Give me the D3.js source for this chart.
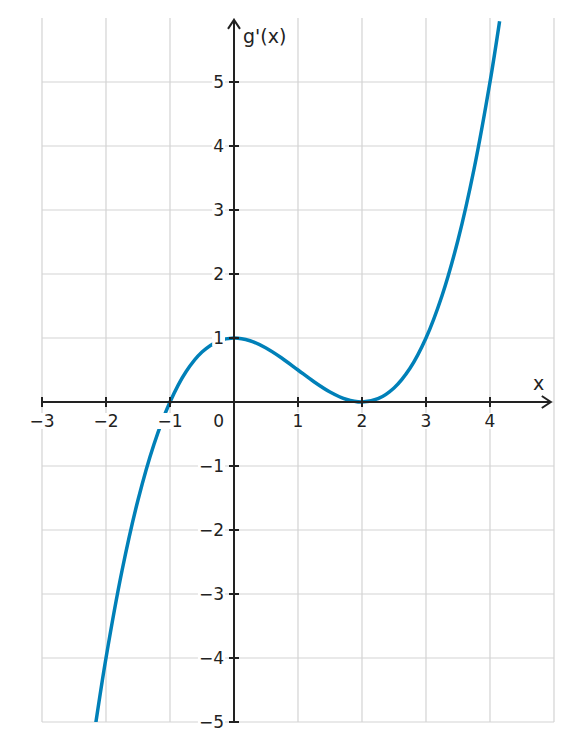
<!DOCTYPE html>
<html><head><meta charset="utf-8">
<script src="https://cdn.jsdelivr.net/npm/d3@7"></script>
<style>body{margin:0;background:#fff}text{font-family:"DejaVu Sans",sans-serif;fill:#222}</style>
</head><body><svg id="c" width="573" height="752"></svg>
<script>
const xTicks=[-3,-2,-1,1,2,3,4];
const yTicks=[-5,-4,-3,-2,-1,1,2,3,4,5];
const xs=[-2.17,-2,-1.75,-1.5,-1.25,-1,-0.75,-0.5,-0.25,0,0.25,0.5,0.75,1,1.25,1.5,1.75,2,2.25,2.5,2.75,3,3.25,3.5,3.75,4,4.15];
const ys=[-5.086,-4,-2.637,-1.531,-0.66,0,0.473,0.781,0.949,1,0.957,0.844,0.684,0.5,0.316,0.156,0.043,0,0.051,0.219,0.527,1,1.66,2.531,3.637,5,5.951];
const svg=d3.select("#c");
const x=d3.scaleLinear().domain([-3,5]).range([42,554]);
const y=d3.scaleLinear().domain([-5,6]).range([722,18]);
svg.append("defs").append("clipPath").attr("id","cp").append("rect").attr("x",0).attr("y",0).attr("width",573).attr("height",y(-5));
const g=svg.append("g");
[-3,-2,-1,0,1,2,3,4,5].forEach(v=>g.append("line").attr("x1",x(v)).attr("x2",x(v)).attr("y1",y(6)).attr("y2",y(-5)).attr("stroke","#d3d3d3").attr("stroke-width",1.2));
[-5,-4,-3,-2,-1,0,1,2,3,4,5].forEach(v=>g.append("line").attr("y1",y(v)).attr("y2",y(v)).attr("x1",x(-3)).attr("x2",x(5)).attr("stroke","#d3d3d3").attr("stroke-width",1.2));
const pts=xs.map((v,i)=>[v,ys[i]]);
svg.append("path").datum(pts).attr("clip-path","url(#cp)").attr("d",d3.line().x(d=>x(d[0])).y(d=>y(d[1])).curve(d3.curveCatmullRom)).attr("fill","none").attr("stroke","#0080b8").attr("stroke-width",3.5);
const ax="#222";
svg.append("line").attr("x1",x(-3)).attr("x2",x(4.95)).attr("y1",y(0)).attr("y2",y(0)).attr("stroke",ax).attr("stroke-width",2);
svg.append("path").attr("d",`M${x(4.95)-9},${y(0)-6}L${x(4.95)},${y(0)}L${x(4.95)-9},${y(0)+6}`).attr("fill","none").attr("stroke",ax).attr("stroke-width",2);
svg.append("line").attr("x1",x(0)).attr("x2",x(0)).attr("y1",y(-5)).attr("y2",y(5.97)).attr("stroke",ax).attr("stroke-width",2);
svg.append("path").attr("d",`M${x(0)-6},${y(5.97)+9}L${x(0)},${y(5.97)}L${x(0)+6},${y(5.97)+9}`).attr("fill","none").attr("stroke",ax).attr("stroke-width",2);
function lbl(px,py,anchor,t){
 const tx=svg.append("text").attr("x",px).attr("y",py).attr("text-anchor",anchor).attr("font-size",17).text(t);
 const b=tx.node().getBBox();
 svg.insert("rect","text:last-of-type").attr("x",b.x-1).attr("y",b.y+2).attr("width",b.width+2).attr("height",b.height-4).attr("fill","#fff");
 tx.raise();
}
xTicks.forEach(v=>{svg.append("line").attr("x1",x(v)).attr("x2",x(v)).attr("y1",y(0)-5).attr("y2",y(0)+5).attr("stroke",ax).attr("stroke-width",2);
 lbl(x(v),y(0)+25,"middle",String(v).replace("-","\u2212"));});
yTicks.forEach(v=>{svg.append("line").attr("y1",y(v)).attr("y2",y(v)).attr("x1",x(0)-5).attr("x2",x(0)+5).attr("stroke",ax).attr("stroke-width",2);
 lbl(x(0)-10,y(v)+6,"end",String(v).replace("-","\u2212"));});
lbl(x(0)-10,y(0)+25,"end","0");
svg.append("text").attr("x",243).attr("y",43).attr("font-size",19).text("g'(x)");
svg.append("text").attr("x",533).attr("y",390).attr("font-size",19).text("x");
</script></body></html>
